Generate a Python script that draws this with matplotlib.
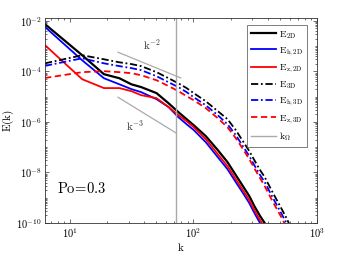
import numpy as np
import matplotlib
matplotlib.use("Agg")
import matplotlib.pyplot as plt
from matplotlib.ticker import LogLocator, NullFormatter, FixedLocator

plt.rcParams['mathtext.fontset'] = 'cm'
plt.rcParams['font.family'] = ['DejaVu Serif']

# wavenumbers of the solid (2D) and dashed (3D) spectra
k_2d = [6.28, 12.57, 18.85, 25.13, 31.42, 37.70, 50.27, 62.83, 75.40, 87.96, 100.5,
        125.7, 157.1, 188.5, 219.9, 251.3, 282.7, 314.2, 345.6, 377.0, 439.8]
k_3d = [6.28, 12.57, 18.85, 25.13, 31.42, 37.70, 50.27, 62.83, 75.40, 87.96, 100.5,
        125.7, 157.1, 188.5, 219.9, 251.3, 282.7, 314.2, 345.6, 377.0, 439.8,
        502.7, 565.5, 628.3]

# log10 of the spectra
logE_2D = [-2.13, -3.36, -4.11, -4.27, -4.51, -4.62, -4.86, -5.26, -5.61, -5.89, -6.13,
           -6.56, -7.11, -7.59, -8.10, -8.54, -8.93, -9.37, -9.72, -10.0, -10.67]
logEh_2D = [-2.24, -3.56, -4.27, -4.51, -4.70, -4.82, -5.10, -5.41, -5.81, -6.09, -6.32,
            -6.80, -7.39, -7.87, -8.38, -8.81, -9.21, -9.64, -10.0, -10.28, -10.87]
logEz_2D = [-2.96, -4.31, -4.66, -4.66, -4.78, -4.94, -5.06, -5.41, -5.73, -5.97, -6.21,
            -6.68, -7.27, -7.75, -8.26, -8.70, -9.09, -9.53, -9.88, -10.16, -10.75]
logE_3D = [-3.68, -3.36, -3.52, -3.64, -3.71, -3.79, -4.03, -4.27, -4.47, -4.66, -4.86,
           -5.18, -5.57, -5.89, -6.32, -6.76, -7.15, -7.55, -7.90, -8.18, -8.81,
           -9.33, -9.80, -10.28]
logEh_3D = [-3.78, -3.48, -3.68, -3.79, -3.87, -3.95, -4.19, -4.43, -4.62, -4.82, -5.02,
            -5.34, -5.73, -6.09, -6.52, -6.96, -7.35, -7.75, -8.10, -8.38, -9.01,
            -9.53, -10.0, -10.47]
logEz_3D = [-4.26, -4.03, -3.99, -4.03, -4.07, -4.15, -4.35, -4.58, -4.78, -4.98, -5.14,
            -5.45, -5.85, -6.21, -6.64, -7.07, -7.47, -7.87, -8.22, -8.54, -9.17,
            -9.68, -10.16, -10.63]

k_omega = 72.5
ref2_k = [24.5, 79.0]
ref2_E = [5.75e-4, 5.5e-5]
ref3_k = [24.5, 72.0]
ref3_E = [9.5e-6, 3.7e-7]

fig = plt.figure(figsize=(3.51, 2.54), dpi=100)
ax = fig.add_axes([45/351, 1-223/254, 272/351, 205/254])

def E(v):
    return 10.0 ** np.asarray(v)

lw = 1.3
ax.plot(ref2_k, ref2_E, color='#aaaaaa', lw=0.9)
ax.plot(ref3_k, ref3_E, color='#aaaaaa', lw=0.9)
ax.plot(k_2d, E(logE_2D), color='black', lw=1.6, label=r'$\mathrm{E_{2D}}$')
ax.plot(k_2d, E(logEh_2D), color='blue', lw=lw, label=r'$\mathrm{E_{h,2D}}$')
ax.plot(k_2d, E(logEz_2D), color='red', lw=lw, label=r'$\mathrm{E_{z,2D}}$')
ax.plot(k_3d, E(logE_3D), color='black', lw=lw, ls=(0, (4, 1.5, 1, 1.5)), label=r'$\mathrm{E_{3D}}$')
ax.plot(k_3d, E(logEh_3D), color='blue', lw=lw, ls=(0, (4, 1.5, 1, 1.5)), label=r'$\mathrm{E_{h,3D}}$')
ax.plot(k_3d, E(logEz_3D), color='red', lw=lw, ls=(0, (3.5, 2)), label=r'$\mathrm{E_{z,3D}}$')
ax.axvline(k_omega, color='#aaaaaa', lw=1.0, label=r'$\mathrm{k_{\Omega}}$')

ax.set_xscale('log')
ax.set_yscale('log')
ax.set_xlim(2*np.pi, 1000)
ax.set_ylim(1e-10, 1.3e-2)

ax.yaxis.set_major_locator(FixedLocator([1e-10, 1e-8, 1e-6, 1e-4, 1e-2]))
ax.yaxis.set_minor_locator(LogLocator(base=10, subs=np.arange(1, 10), numticks=100))
ax.yaxis.set_minor_formatter(NullFormatter())
ax.set_yticklabels([r'$10^{-10}$', r'$10^{-8}$', r'$10^{-6}$', r'$10^{-4}$', r'$10^{-2}$'])
ax.xaxis.set_major_locator(FixedLocator([10, 100, 1000]))
ax.set_xticklabels([r'$10^{1}$', r'$10^{2}$', r'$10^{3}$'])
ax.xaxis.set_minor_locator(LogLocator(base=10, subs=np.arange(2, 10), numticks=100))
ax.xaxis.set_minor_formatter(NullFormatter())

ax.tick_params(which='both', direction='in', top=True, right=True, labelsize=7.5,
               color='#333333', width=0.5, pad=2.5)
ax.tick_params(which='major', length=3)
ax.tick_params(which='minor', length=1.6)
for s in ax.spines.values():
    s.set_color('#333333')
    s.set_linewidth(0.6)

ax.set_xlabel(r'$\mathrm{k}$', fontsize=8, labelpad=1)
ax.set_ylabel(r'$\mathrm{E(k)}$', fontsize=8, labelpad=0)

ax.text(0.393, 0.868, r'$\mathrm{k^{-2}}$', transform=ax.transAxes, fontsize=8,
        ha='center', va='center', color='#333333')
ax.text(0.33, 0.473, r'$\mathrm{k^{-3}}$', transform=ax.transAxes, fontsize=8,
        ha='center', va='center', color='#333333')
ax.text(0.045, 0.17, r'$\mathrm{Po\!=\!0.3}$', transform=ax.transAxes, fontsize=10.5,
        ha='left', va='center')

leg = ax.legend(loc='upper right', bbox_to_anchor=(0.963, 0.966), borderaxespad=0,
                fontsize=7, frameon=True, fancybox=False, handlelength=2.6,
                handletextpad=0.3, labelspacing=0.45, borderpad=0.4)
leg.get_frame().set_edgecolor('#444444')
leg.get_frame().set_linewidth(0.6)

fig.savefig('out.png', dpi=100)
